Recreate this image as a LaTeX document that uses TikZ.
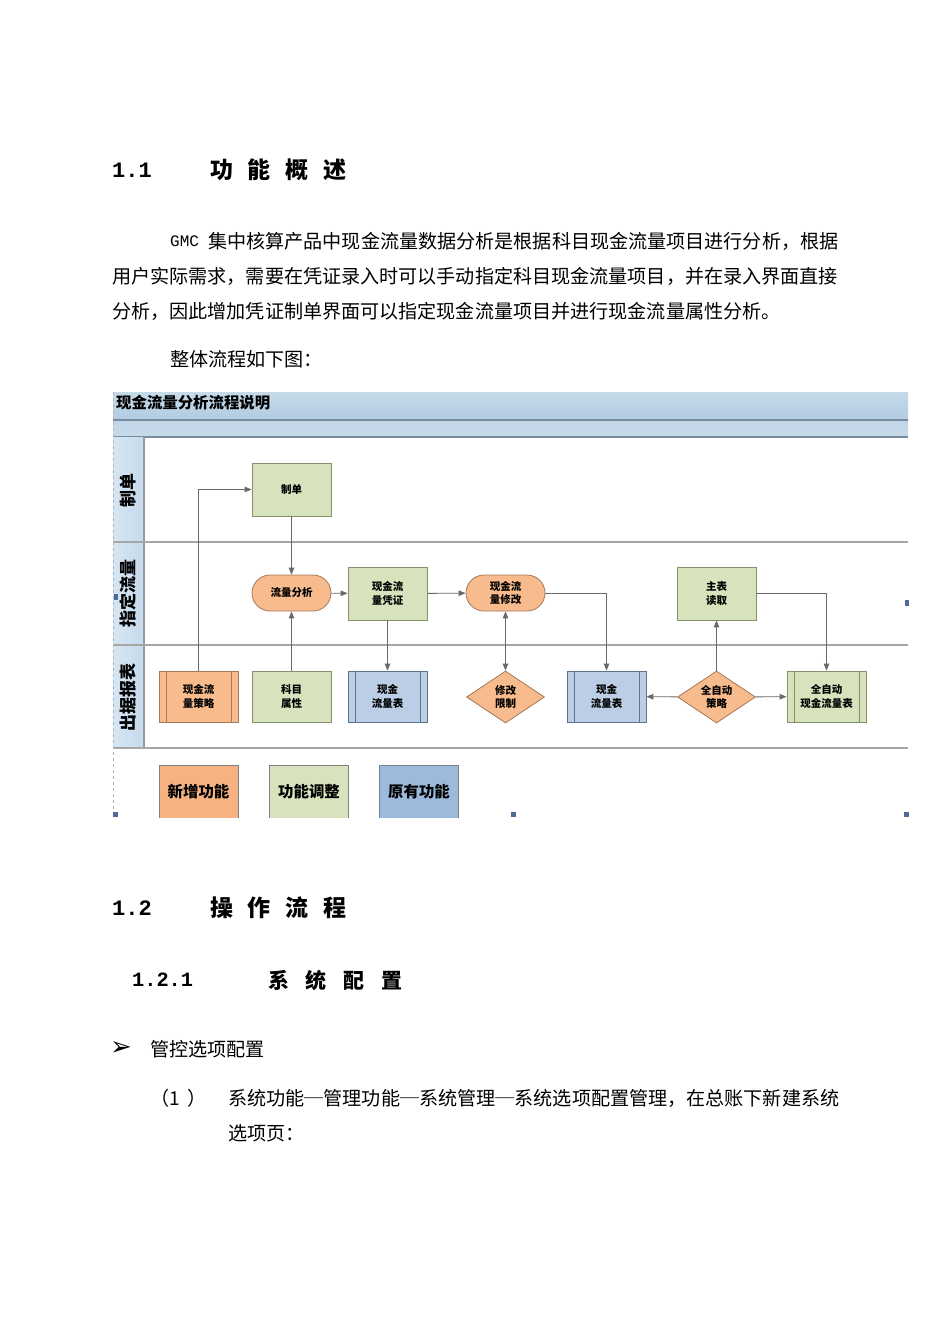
\documentclass[tikz,border=0pt]{standalone}
\usepackage{fontspec}
\usepackage{tikz}
\usetikzlibrary{arrows.meta,positioning,shapes.geometric}
\newfontfamily\cjk{Noto Sans CJK SC}
\newfontfamily\numfnt{Liberation Mono}
\newfontfamily\symfnt{DejaVu Sans}
\definecolor{orfill}{RGB}{248,187,142}
\definecolor{ordraw}{RGB}{165,120,88}
\definecolor{grfill}{RGB}{215,227,188}
\definecolor{grdraw}{RGB}{132,145,105}
\definecolor{blfill}{RGB}{187,206,229}
\definecolor{bldraw}{RGB}{95,115,140}
\definecolor{legor}{RGB}{246,178,128}
\definecolor{legbl}{RGB}{156,186,220}
\definecolor{bartop}{RGB}{198,219,233}
\definecolor{barbot}{RGB}{178,203,226}
\definecolor{barline}{RGB}{120,140,160}
\definecolor{lanefill}{RGB}{197,218,238}
\definecolor{flowline}{RGB}{105,105,105}
\definecolor{handle}{RGB}{80,105,150}

\begin{document}
\begin{tikzpicture}[x=1pt,y=-1pt,
    body/.style={anchor=west,inner sep=0pt,font=\cjk\fontsize{19.1}{23}\selectfont},
    headnum/.style={anchor=west,inner sep=0pt,font=\numfnt\bfseries\fontsize{22}{26}\selectfont},
    headtxt/.style={anchor=west,inner sep=0pt,font=\cjk\bfseries\fontsize{23}{28}\selectfont},
    box/.style={draw=grdraw,fill=grfill,line width=0.8pt,minimum width=79pt,minimum height=53pt,
      inner sep=1pt,align=center,font=\cjk\bfseries\fontsize{10.5}{13.5}\selectfont},
    pill/.style={box,draw=ordraw,fill=orfill,minimum height=36pt,rounded corners=18pt},
    predef/.style={box,minimum height=51pt,path picture={
      \draw[line width=0.8pt] ([xshift=7pt]path picture bounding box.north west) -- ([xshift=7pt]path picture bounding box.south west)
        ([xshift=-7pt]path picture bounding box.north east) -- ([xshift=-7pt]path picture bounding box.south east);}},
    choice/.style={box,diamond,draw=ordraw,fill=orfill,aspect=1.5,minimum width=78pt,minimum height=52pt,inner sep=0pt},
    lanelbl/.style={rotate=90,inner sep=0pt,font=\cjk\bfseries\fontsize{17}{20}\selectfont},
    legend/.style={draw=gray,line width=0.8pt,minimum width=79pt,minimum height=66pt,text depth=14pt,
      font=\cjk\bfseries\fontsize{15.4}{18}\selectfont},
    flow/.style={draw=flowline,line width=0.9pt,-{Triangle[length=7pt,width=5.5pt]}}]
  \useasboundingbox[fill=white] (0,0) rectangle (950,1342);

  % 1.1
  \node[headnum] (n11) at (112,170) {1.1};
  \node[headtxt] (t11) at (210,170) {功\hspace{14.7pt}能\hspace{14.7pt}概\hspace{14.7pt}述};
  \node[body] (gmc) at (170,241) {\numfnt\fontsize{16}{20}\selectfont GMC};
  \node[body] (p1) at (208,241) {集中核算产品中现金流量数据分析是根据科目现金流量项目进行分析，根据};
  \node[body] (p2) at (112,276) {用户实际需求，需要在凭证录入时可以手动指定科目现金流量项目，并在录入界面直接};
  \node[body] (p3) at (112,311) {分析，因此增加凭证制单界面可以指定现金流量项目并进行现金流量属性分析。};
  \node[body] (p4) at (170,359) {整体流程如下图：};

  % diagram frame
  \shade[top color=bartop,bottom color=barbot] (113,392) rectangle (908,420);
  \shade[top color=barbot!80!white,bottom color=bartop] (113,421) rectangle (908,436);
  \draw[barline,line width=1.6pt] (113,420) -- (908,420);
  \draw[barline,line width=1.6pt] (113,437) -- (908,437);
  \shade[left color=lanefill!70!white,right color=lanefill] (113,437) rectangle (144,748);
  \draw[gray!80,line width=1.2pt] (144,437) -- (144,748);
  \draw[gray!70,line width=1.6pt] (113,542) -- (908,542);
  \draw[gray!70,line width=1.6pt] (113,645) -- (908,645);
  \draw[gray!70,line width=1.6pt] (113,748) -- (908,748);
  \draw[gray!60,dashed,line width=0.6pt] (113,392) -- (113,817);
  \node[anchor=west,inner sep=0pt,font=\cjk\bfseries\fontsize{15.4}{18}\selectfont] (title) at (116,403) {现金流量分析流程说明};
  \node[lanelbl] (lane1) at (128,490) {制单};
  \node[lanelbl] (lane2) at (128,593) {指定流量};
  \node[lanelbl] (lane3) at (128,697) {出据报表};

  % nodes
  \node[box] (zhidan) at (291.5,489.5) {制单};
  \node[pill] (fenxi) at (291.5,593) {流量分析};
  \node[box] (pingzheng) at (387.5,593.5) {现金流\\量凭证};
  \node[pill] (xiugai) at (505.5,593) {现金流\\量修改};
  \node[box] (zhubiao) at (716.5,593.5) {主表\\读取};
  \node[predef,draw=ordraw,fill=orfill] (celue) at (198.5,696.5) {现金流\\量策略};
  \node[box,minimum height=51pt] (kemu) at (291.5,696.5) {科目\\属性};
  \node[predef,draw=bldraw,fill=blfill] (biao1) at (387.5,696.5) {现金\\流量表};
  \node[choice] (xianzhi) at (505.5,697) {修改\\限制};
  \node[predef,draw=bldraw,fill=blfill] (biao2) at (606.5,696.5) {现金\\流量表};
  \node[choice] (zidong) at (716.5,697) {全自动\\策略};
  \node[predef] (quanbiao) at (826.5,696.5) {全自动\\现金流量表};

  % connectors
  \draw[flow] (celue.north) |- (zhidan.west);
  \draw[flow] (zhidan) -- (fenxi);
  \draw[flow] (kemu) -- (fenxi);
  \draw[flow] (fenxi) -- (pingzheng);
  \draw[flow] (pingzheng) -- (xiugai);
  \draw[flow] (pingzheng) -- (biao1);
  \draw[flow,{Triangle[length=7pt,width=5.5pt]}-{Triangle[length=7pt,width=5.5pt]}] (xiugai) -- (xianzhi);
  \draw[flow] (xiugai.east) -| (biao2.north);
  \draw[flow] (zidong) -- (biao2);
  \draw[flow] (zidong) -- (zhubiao);
  \draw[flow] (zidong) -- (quanbiao);
  \draw[flow] (zhubiao.east) -| (quanbiao.north);

  % legend, cut at the picture edge
  \begin{scope}
    \clip (112,392) rectangle (909,817);
    \node[legend,fill=legor] (newfn) at (198.5,798) {新增功能};
    \node[legend,fill=grfill] (adjfn) at (309,798) {功能调整};
    \node[legend,fill=legbl] (oldfn) at (419,798) {原有功能};
  \end{scope}
  \fill[handle] (113,812) rectangle (118,817);
  \fill[handle] (511,812) rectangle (516,817);
  \fill[handle] (904,812) rectangle (909,817);
  \fill[handle] (905,600) rectangle (909,606);
  \fill[handle] (114,594) rectangle (118,600);

  % 1.2
  \node[headnum] (n12) at (112,908) {1.2};
  \node[headtxt] (t12) at (210,908) {操\hspace{14.7pt}作\hspace{14.7pt}流\hspace{14.7pt}程};
  \node[headnum,font=\numfnt\bfseries\fontsize{20.3}{24}\selectfont] (n121) at (132,980) {1.2.1};
  \node[headtxt,font=\cjk\bfseries\fontsize{21}{25}\selectfont] (t121) at (268,980) {系\hspace{16.7pt}统\hspace{16.7pt}配\hspace{16.7pt}置};
  \node[anchor=west,inner sep=0pt,font=\symfnt\bfseries\fontsize{26}{28}\selectfont] (bullet) at (110,1049) {➢};
  \node[body] (opt) at (150,1049) {管控选项配置};
  \node[body] (num1) at (150,1098) {（1\hspace{8pt}）};
  \node[body] (s1) at (228,1098) {系统功能─管理功能─系统管理─系统选项配置管理，在总账下新建系统};
  \node[body] (s2) at (228,1133) {选项页：};
\end{tikzpicture}
\end{document}
